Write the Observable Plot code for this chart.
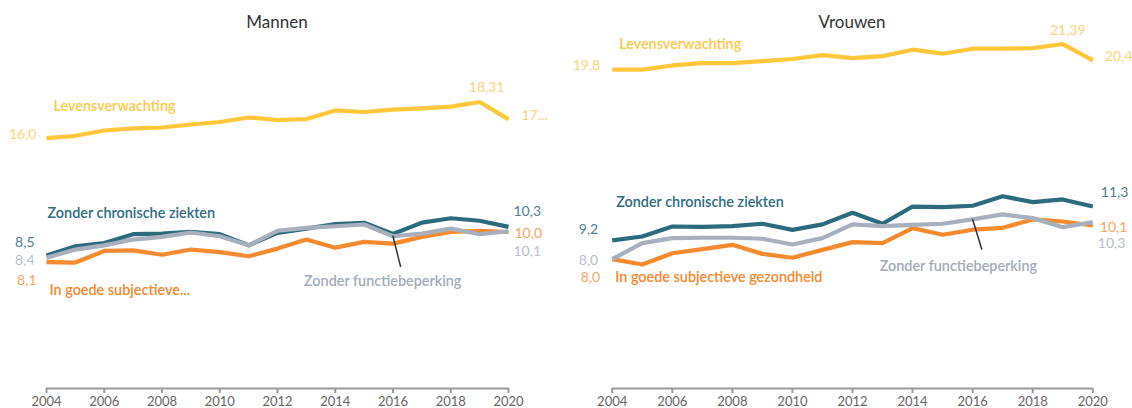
<!DOCTYPE html>
<html><head><meta charset="utf-8">
<script src="https://cdn.jsdelivr.net/npm/d3@7"></script>
<script src="https://cdn.jsdelivr.net/npm/@observablehq/plot@0.6"></script>
<style>
html,body{margin:0;padding:0;background:#fff;}
#wrap{position:relative;width:1132px;height:408px;overflow:hidden;}
.panel{position:absolute;top:0;}
.panel svg{overflow:visible;}
.title{position:absolute;top:11px;height:22px;line-height:22px;font-family:Lato,"Open Sans",sans-serif;font-size:17px;color:#333;text-align:center;}
</style></head><body><div id="wrap"></div>
<script>
// ---------- data ----------
const years = [2004,2005,2006,2007,2008,2009,2010,2011,2012,2013,2014,2015,2016,2017,2018,2019,2020];
const tickYears = [2004,2006,2008,2010,2012,2014,2016,2018,2020];
const panelTitles = ["Mannen","Vrouwen"];

const mannenLevens     = [16.0,16.15,16.49,16.62,16.68,16.87,17.03,17.32,17.16,17.22,17.77,17.67,17.82,17.90,18.01,18.31,17.20];
const mannenChronisch  = [8.5,9.09,9.30,9.86,9.90,10.01,9.86,9.15,9.95,10.22,10.51,10.59,9.87,10.60,10.88,10.72,10.33];
const mannenFunctie    = [8.36,8.88,9.15,9.52,9.69,9.97,9.73,9.15,10.08,10.26,10.37,10.48,9.73,9.90,10.22,9.86,10.05];
const mannenSubjectief = [8.08,8.05,8.79,8.83,8.55,8.88,8.72,8.45,8.94,9.52,9.00,9.37,9.26,9.69,10.01,10.07,10.0];

const vrouwenLevens     = [19.8,19.8,20.06,20.21,20.21,20.33,20.46,20.70,20.52,20.64,21.04,20.79,21.10,21.10,21.14,21.39,20.38];
const vrouwenChronisch  = [9.2,9.44,10.06,10.04,10.08,10.23,9.85,10.19,10.91,10.23,11.30,11.26,11.35,11.94,11.57,11.74,11.30];
const vrouwenFunctie    = [8.03,9.03,9.34,9.36,9.36,9.30,8.94,9.34,10.19,10.08,10.16,10.23,10.50,10.81,10.58,10.02,10.33];
const vrouwenSubjectief = [8.03,7.70,8.40,8.65,8.92,8.36,8.12,8.61,9.09,9.03,9.96,9.55,9.86,9.98,10.50,10.37,10.12];

// label texts: order = levens, chronisch, functie, subjectief
const mannenNames   = ["Levensverwachting","Zonder chronische ziekten","Zonder functiebeperking","In goede subjectieve..."];
const vrouwenNames  = ["Levensverwachting","Zonder chronische ziekten","Zonder functiebeperking","In goede subjectieve gezondheid"];
const mannenStart   = ["16,0","8,5","8,4","8,1"];
const mannenEnd     = ["17...","10,3","10,1","10,0"];
const mannenPeak    = "18,31";
const vrouwenStart  = ["19,8","9,2","8,0","8,0"];
const vrouwenEnd    = ["20,4","11,3","10,3","10,1"];
const vrouwenPeak   = "21,39";

// ---------- styles ----------
const lineColors  = ["#FFC73A","#2C6B7E","#A7B0BC","#F68A2F"];
const nameColors  = ["#FFC84A","#2E6C80","#A3ACB9","#F5872C"];
const valueColors = ["#FCD27C","#4E7E91","#B9C0CA","#F7A461"];
const FONT = "Lato, 'Open Sans', sans-serif";

function pt(vals, i) { return [{year: years[i], value: vals[i]}]; }
function lbl(vals, i, text, o) {
  return Plot.text(pt(vals, i), {x: "year", y: "value", text: () => text, fontFamily: FONT, ...o});
}
const leaderShape = {draw(context, l) { context.moveTo(0, 0); context.lineTo(0, -l); }};

function buildPanel(cfg) {
  const S = [cfg.levens, cfg.chron, cfg.functie, cfg.subj];
  const rows = vals => years.map((year, i) => ({year, value: vals[i]}));
  const last = years.length - 1;
  const peak = years.length - 2;
  const lines = [0, 1, 3, 2].map(k => Plot.line(rows(S[k]), {
    x: "year", y: "value", stroke: lineColors[k], strokeWidth: 4.2,
    strokeLinejoin: "round", strokeLinecap: "butt"
  }));
  const nameFont = {fontSize: 14.4, fontWeight: 600};
  const valFont = {fontSize: 14, fontWeight: 400};
  const o = cfg.off;
  const marks = [
    Plot.ruleY([0], {stroke: "#9b9b9b", strokeWidth: 2}),
    Plot.axisX({ticks: tickYears, tickFormat: d => String(d), tickSize: 5, tickPadding: 3, label: null,
      stroke: "#9b9b9b", strokeWidth: 2, fill: "#666", fontSize: 13, fontFamily: FONT}),
    ...lines,
    // leader line for functiebeperking
    Plot.vector(pt(cfg.functie, 12), {x: "year", y: "value", length: o.lead[0], rotate: o.lead[1],
      anchor: "start", shape: leaderShape, stroke: "#333", strokeWidth: 1.5}),
    // series names
    ...[0, 1, 2, 3].map(k => lbl(S[k], o.name[k][0], cfg.names[k],
      {fill: nameColors[k], textAnchor: "start", dx: o.name[k][1], dy: o.name[k][2], ...nameFont})),
    // start values
    ...[0, 1, 2, 3].map(k => lbl(S[k], 0, cfg.start[k],
      {fill: valueColors[k], textAnchor: "end", dx: o.start[k][0], dy: o.start[k][1], ...valFont})),
    // end values
    ...[0, 1, 2, 3].map(k => lbl(S[k], last, cfg.end[k],
      {fill: valueColors[k], textAnchor: "start", dx: o.end[k][0], dy: o.end[k][1], ...valFont})),
    // peak value
    lbl(cfg.levens, peak, cfg.peak, {fill: valueColors[0], textAnchor: "middle", dx: o.peak[0], dy: o.peak[1], ...valFont})
  ];
  return Plot.plot({
    width: cfg.width, height: 408,
    marginLeft: cfg.mL, marginRight: cfg.mR, marginTop: 40, marginBottom: 20,
    style: {fontFamily: FONT, background: "transparent", overflow: "visible"},
    x: {domain: [years[0], years[last]], axis: null, label: null},
    y: {domain: [0, cfg.yTop], axis: null},
    marks
  });
}

const wrap = document.getElementById("wrap");
const configs = [
  {title: panelTitles[0], left: 0, width: 560, mL: 46, mR: 52, yTop: 22.24,
   levens: mannenLevens, chron: mannenChronisch, functie: mannenFunctie, subj: mannenSubjectief,
   names: mannenNames, start: mannenStart, end: mannenEnd, peak: mannenPeak,
   off: {
     name: [[0, 7, -32], [0, 1, -42], [12, -89, 45], [0, 3, 28]],
     start: [[-10, -4], [-12, -12.5], [-12, 2.5], [-10, 18.5]],
     end: [[13, -4], [5, -15], [5, 20], [6, 1]],
     peak: [7, -14],
     lead: [31, 166]
   }},
  {title: panelTitles[1], left: 560, width: 572, mL: 51.7, mR: 39.7, yTop: 21.61,
   levens: vrouwenLevens, chron: vrouwenChronisch, functie: vrouwenFunctie, subj: vrouwenSubjectief,
   names: vrouwenNames, start: vrouwenStart, end: vrouwenEnd, peak: vrouwenPeak,
   off: {
     name: [[0, 7, -25], [0, 4, -38], [12, -93, 47], [0, 3, 18]],
     start: [[-12, -4], [-14, -11], [-14, 1], [-12, 18]],
     end: [[12, -4], [8, -14], [5, 21], [7, 2]],
     peak: [5, -14],
     lead: [31, 163]
   }}
];
for (const cfg of configs) {
  const div = document.createElement("div");
  div.className = "panel";
  div.style.left = cfg.left + "px";
  div.style.width = cfg.width + "px";
  div.appendChild(buildPanel(cfg));
  const t = document.createElement("div");
  t.className = "title";
  t.textContent = cfg.title;
  t.style.left = cfg.mL + "px";
  t.style.width = (cfg.width - cfg.mL - cfg.mR) + "px";
  div.appendChild(t);
  wrap.appendChild(div);
}
</script>
</body></html>
